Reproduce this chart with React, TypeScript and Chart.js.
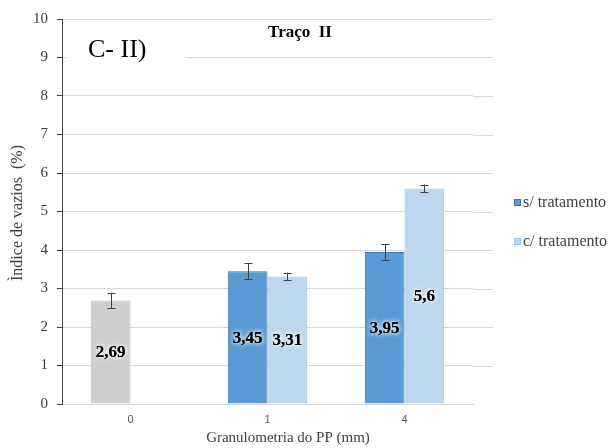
import React, { useEffect, useRef } from "react";
import { Chart, registerables } from "chart.js";

Chart.register(...registerables);

const categories = ["0", "1", "4"];
const semTratamento = [2.69, 3.45, 3.95];
const comTratamento = [null, 3.31, 5.6];
const errSem = [0.2, 0.2, 0.2];
const errCom = [0, 0.1, 0.1];
const seriesNames = ["s/ tratamento", "c/ tratamento"];
const semColors = ["#d0cece", "#5b9bd5", "#5b9bd5"];
const semBorders = ["#bfbfbf", "#41719c", "#41719c"];

const SERIF = "'Liberation Serif', 'Times New Roman', serif";

const overlayPlugin = {
  id: "overlay",
  beforeDatasetsDraw(chart: any) {
    const { ctx, chartArea, scales } = chart;
    const y = scales.y;
    ctx.save();
    ctx.strokeStyle = "#d9d9d9";
    ctx.lineWidth = 1;
    for (let v = 1; v <= 10; v++) {
      const py = Math.round(y.getPixelForValue(v)) + 0.5;
      ctx.beginPath();
      ctx.moveTo(chartArea.right, py);
      ctx.lineTo(chartArea.right + 20, py);
      ctx.stroke();
    }
    ctx.fillStyle = "#ffffff";
    ctx.fillRect(chartArea.left + 4, 36, 120, 34);
    ctx.fillStyle = "#000000";
    ctx.font = `26px ${SERIF}`;
    ctx.textAlign = "left";
    ctx.textBaseline = "middle";
    ctx.fillText("C- II)", 88, 50);
    ctx.font = `bold 17px ${SERIF}`;
    ctx.textAlign = "center";
    ctx.fillText("Traço  II", 300, 33);
    ctx.restore();
  },
  afterDatasetsDraw(chart: any) {
    const { ctx, scales } = chart;
    const y = scales.y;
    const errs = [errSem, errCom];
    ctx.save();
    chart.data.datasets.forEach((ds: any, di: number) => {
      const meta = chart.getDatasetMeta(di);
      meta.data.forEach((bar: any, i: number) => {
        const v = ds.data[i];
        if (v == null) return;
        const e = errs[di][i];
        const x = bar.x;
        if (e > 0) {
          const yt = y.getPixelForValue(v + e);
          const yb = y.getPixelForValue(v - e);
          ctx.strokeStyle = "#404040";
          ctx.lineWidth = 1;
          const xs = Math.round(x) + 0.5;
          ctx.beginPath();
          ctx.moveTo(xs, yt);
          ctx.lineTo(xs, yb);
          ctx.moveTo(xs - 4, Math.round(yt) + 0.5);
          ctx.lineTo(xs + 4, Math.round(yt) + 0.5);
          ctx.moveTo(xs - 4, Math.round(yb) + 0.5);
          ctx.lineTo(xs + 4, Math.round(yb) + 0.5);
          ctx.stroke();
        }
        const mid = (bar.y + bar.base) / 2 + 1;
        const txt = String(v).replace(".", ",");
        ctx.font = `bold 17px ${SERIF}`;
        ctx.textAlign = "center";
        ctx.textBaseline = "middle";
        ctx.shadowColor = "rgba(255,255,255,1)";
        ctx.shadowBlur = 5;
        ctx.fillStyle = "#000000";
        ctx.fillText(txt, x, mid);
        ctx.fillText(txt, x, mid);
        ctx.shadowBlur = 0;
      });
    });
    ctx.restore();
  },
  afterDraw(chart: any) {
    const { ctx } = chart;
    ctx.save();
    const items = [
      { label: seriesNames[0], fill: "#5b9bd5", stroke: "#41719c", y: 203 },
      { label: seriesNames[1], fill: "#bdd7ee", stroke: "#9dc3e6", y: 242 },
    ];
    items.forEach((it) => {
      ctx.fillStyle = it.fill;
      ctx.fillRect(514, it.y - 4, 7, 7);
      ctx.strokeStyle = it.stroke;
      ctx.lineWidth = 1;
      ctx.strokeRect(514.5, it.y - 3.5, 6, 6);
      ctx.fillStyle = "#404040";
      ctx.font = `16px ${SERIF}`;
      ctx.textAlign = "left";
      ctx.textBaseline = "middle";
      ctx.fillText(it.label, 523, it.y);
    });
    ctx.fillStyle = "#404040";
    ctx.font = `15px ${SERIF}`;
    ctx.textAlign = "center";
    ctx.textBaseline = "middle";
    ctx.fillText("Granulometria do PP (mm)", 288, 438);
    ctx.font = `16px ${SERIF}`;
    ctx.translate(18, 213);
    ctx.rotate(-Math.PI / 2);
    ctx.fillText("Ìndice de vazios  (%)", 0, 0);
    ctx.restore();
  },
};

export default function App() {
  const ref = useRef<HTMLCanvasElement | null>(null);
  useEffect(() => {
    if (!ref.current) return;
    const chart = new Chart(ref.current, {
      type: "bar",
      data: {
        labels: categories,
        datasets: [
          {
            label: seriesNames[0],
            data: semTratamento,
            backgroundColor: semColors,
            borderColor: semBorders,
            borderWidth: 1,
          },
          {
            label: seriesNames[1],
            data: comTratamento as any,
            backgroundColor: "#bdd7ee",
            borderColor: "#9dc3e6",
            borderWidth: 1,
          },
        ],
      },
      options: {
        responsive: false,
        animation: false,
        layout: { padding: { left: 0, top: 19, right: 137, bottom: 0 } },
        plugins: {
          legend: { display: false },
          tooltip: { enabled: false },
          title: { display: false },
        },
        datasets: {
          bar: { barPercentage: 1, categoryPercentage: 0.58 },
        },
        scales: {
          x: {
            grid: { display: false, drawTicks: false },
            border: { display: true, color: "#d9d9d9" },
            ticks: {
              padding: 9,
              color: "#595959",
              font: { family: "'Liberation Sans', Arial, sans-serif", size: 11 },
            },
            afterFit: (s: any) => {
              s.height = 44;
            },
          },
          y: {
            min: 0,
            max: 10,
            ticks: {
              stepSize: 1,
              padding: 9,
              color: "#404040",
              font: { family: SERIF, size: 15 },
            },
            grid: {
              color: "#d9d9d9",
              tickColor: "#404040",
              tickLength: 5,
            },
            border: { display: true, color: "#404040" },
            afterFit: (s: any) => {
              s.width = 62;
            },
          },
        },
      },
      plugins: [overlayPlugin],
    });
    return () => chart.destroy();
  }, []);
  return (
    <div style={{ position: "fixed", left: 0, top: 0, width: 610, height: 448, background: "#fff" }}>
      <canvas ref={ref} width={610} height={448} />
    </div>
  );
}
